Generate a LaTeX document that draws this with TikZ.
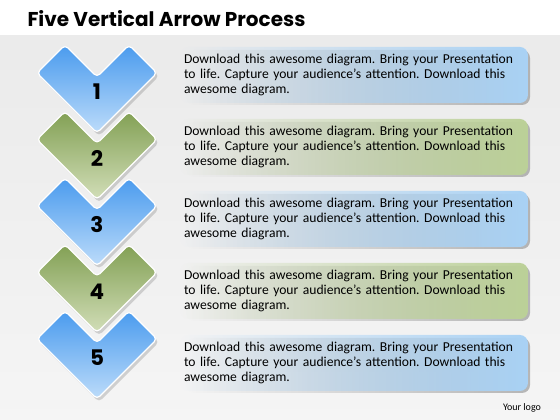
\documentclass[tikz,border=0pt]{standalone}
\usepackage{fontspec}
\setmainfont{Carlito}
\newfontfamily\headfont{Poppins}
\usetikzlibrary{fadings}
\definecolor{chevblue}{HTML}{4A9BEE}
\definecolor{chevbluelt}{HTML}{BDDCFA}
\definecolor{chevgreen}{HTML}{82A054}
\definecolor{chevgreenlt}{HTML}{D2DEB8}
\definecolor{boxblue}{HTML}{A9D2F5}
\definecolor{boxgreen}{HTML}{BCD198}

\begin{document}
\frenchspacing
\begin{tikzpicture}[x=1pt,y=-1pt,
  num/.style={font=\headfont\fontsize{21.5}{21.5}\selectfont\bfseries},
  textbox/.style={rounded corners=8pt,minimum width=348pt,minimum height=56pt,
    text width=340pt,inner xsep=4pt,align=left,font=\fontsize{13.6}{15}\selectfont},
  chev/.style={draw=white,line width=1.2pt,rounded corners=4pt}]
  \useasboundingbox (0,0) rectangle (560,420);
  \fill[white] (0,0) rectangle (560,420);
  \fill[top color=black!8,bottom color=black!4] (0,36) rectangle (560,420);
  \node[anchor=base west,font=\headfont\fontsize{20}{20}\selectfont\bfseries] (title) at (24,27) {Five Vertical Arrow Process};
  % text boxes
  \foreach \i/\cb in {1/boxblue,2/boxgreen,3/boxblue,4/boxgreen,5/boxblue} {
    \pgfmathsetmacro\b{75+72*(\i-1)}
    \fill[rounded corners=8pt,black!45,opacity=.6,path fading=west] (186,\b-25) rectangle (530,\b+30);
    \node[textbox,fill=\cb,path fading=west] (box\i) at (354,\b)
      {Download this awesome diagram. Bring your Presentation\\to life. Capture your audience’s attention. Download this\\awesome diagram.};
  }
  % chevrons
  \foreach \i/\ca/\cb in {5/chevblue/chevbluelt,4/chevgreen/chevgreenlt,3/chevblue/chevbluelt,2/chevgreen/chevgreenlt,1/chevblue/chevbluelt} {
    \pgfmathsetmacro\t{45+66.5*(\i-1)}
    \fill[black,opacity=.15,rounded corners=4pt] (67,\t+3) -- (99,\t+35) -- (131,\t+3) -- (159,\t+31) -- (99,\t+91) -- (39,\t+31) -- cycle;
    \path[chev,top color=\ca,bottom color=\cb] (65,\t) -- (97,\t+32) -- (129,\t) -- (157,\t+28) -- (97,\t+88) -- (37,\t+28) -- cycle;
    \node[num] (n\i) at (97,\t+47) {\i};
  }
  \node[font=\fontsize{10}{10}\selectfont] (logo) at (522,408) {Your logo};
\end{tikzpicture}
\end{document}
